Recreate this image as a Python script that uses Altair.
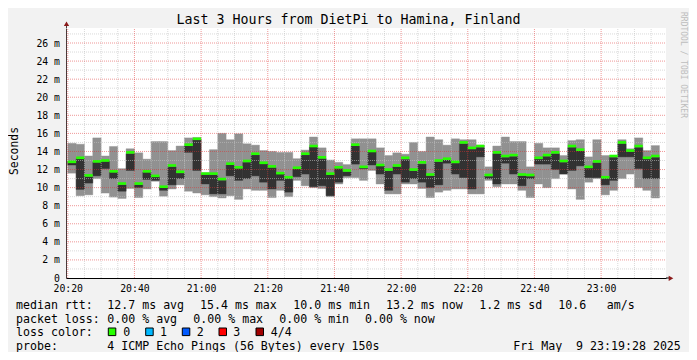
import altair as alt
import pandas as pd

MONO = "DejaVu Sans Mono"

# ---- values (milliseconds), one per 150 s step, first step 20:20 ----
ping_max = [14.9, 14.8, 13.5, 15.5, 13.5, 14.55, 12.1, 14.3, 13.85, 13.15,
            15.1, 15.1, 14.1, 14.6, 15.5, 15.55, 11.65, 14.2, 16.0, 15.3,
            15.95, 14.85, 14.7, 14.1, 14.0, 13.9, 13.9, 13.2, 14.15, 15.6,
            14.4, 13.05, 12.8, 12.55, 15.4, 15.4, 15.4, 14.4, 13.55, 13.85,
            13.7, 15.0, 14.0, 15.6, 15.3, 14.7, 15.4, 15.3, 15.3, 14.7,
            12.3, 14.6, 15.6, 15.1, 15.1, 12.3, 14.9, 14.4, 14.4, 13.55,
            15.2, 15.3, 13.4, 15.3, 13.55, 13.55, 15.3, 14.3, 15.5, 14.1,
            14.65]
smoke_hi = [12.9, 13.2, 11.2, 12.8, 12.9, 11.7, 10.3, 13.75, 10.3, 11.7,
            11.2, 10.0, 12.3, 11.6, 14.6, 15.3, 11.45, 11.4, 10.8, 12.5,
            12.1, 12.8, 13.6, 12.6, 12.2, 11.5, 11.0, 12.05, 13.6, 14.5,
            13.2, 11.4, 12.1, 11.75, 14.6, 12.2, 13.95, 12.4, 11.85, 12.3,
            13.1, 11.85, 12.6, 11.3, 12.85, 13.1, 12.7, 14.85, 14.25, 14.45,
            11.25, 13.75, 13.35, 13.45, 11.3, 11.25, 13.15, 13.45, 13.75, 12.8,
            14.45, 14.05, 12.15, 12.75, 11.0, 13.35, 14.85, 13.95, 14.45, 13.15,
            13.35]
median_rtt = [12.85, 13.3, 11.35, 12.9, 13.0, 11.8, 10.45, 13.9, 10.45, 11.8,
              11.3, 10.1, 12.45, 11.75, 14.75, 15.4, 11.55, 11.55, 10.95, 12.65,
              12.25, 12.95, 13.75, 12.75, 12.35, 11.6, 11.15, 12.2, 13.75, 14.6,
              13.35, 11.55, 12.25, 11.9, 14.75, 12.3, 14.05, 12.5, 12.0, 12.45,
              13.3, 12.0, 12.8, 11.45, 13.0, 13.2, 12.85, 15.0, 14.4, 14.6,
              11.4, 13.9, 13.5, 13.6, 11.45, 11.4, 13.3, 13.6, 13.9, 12.95,
              14.6, 14.2, 12.3, 12.9, 11.15, 13.5, 15.0, 14.1, 14.6, 13.3,
              13.5]
smoke_lo = [12.5, 9.8, 10.5, 11.3, 12.1, 11.0, 9.6, 11.9, 10.0, 10.9,
            10.8, 9.7, 10.3, 11.0, 13.9, 11.9, 10.4, 9.3, 9.3, 11.3,
            10.8, 11.0, 11.3, 10.6, 9.85, 10.8, 9.5, 11.2, 11.5, 10.1,
            10.2, 9.1, 10.6, 11.3, 12.6, 12.1, 12.5, 11.5, 9.7, 11.5,
            10.6, 11.0, 10.6, 10.0, 10.3, 12.7, 11.5, 11.1, 9.85, 13.4,
            11.0, 10.4, 12.7, 11.5, 10.2, 11.0, 12.6, 12.6, 12.0, 11.5,
            11.9, 12.4, 11.1, 11.1, 10.3, 10.8, 13.4, 13.4, 12.1, 11.0,
            11.0]
ping_min = [11.6, 9.1, 9.2, 11.0, 9.4, 8.95, 8.8, 9.9, 8.9, 9.85,
            10.7, 9.05, 9.85, 10.3, 9.6, 9.4, 9.2, 9.0, 8.85, 9.1,
            8.7, 9.85, 9.7, 9.7, 8.9, 9.7, 9.0, 10.8, 10.2, 10.0,
            9.9, 9.0, 10.4, 11.1, 11.1, 10.8, 11.9, 10.4, 9.3, 9.3,
            10.4, 10.4, 9.9, 8.9, 9.5, 9.7, 9.85, 9.85, 9.3, 9.3,
            10.8, 10.1, 10.4, 10.4, 9.7, 8.9, 10.4, 10.0, 11.0, 11.5,
            9.85, 8.7, 10.6, 11.0, 9.2, 9.7, 11.0, 11.5, 10.0, 9.7,
            8.85]

first_step_min = 20.0            # 20:20, in minutes after 20:00
step_min = 2.5                   # 150 s
x_domain = [19.4667, 199.4667]   # 20:19:28 .. 23:19:28
y_domain_max = 27.66

x_major = [20, 40, 60, 80, 100, 120, 140, 160, 180]
x_minor = [m for m in range(25, 200, 5) if m % 20 != 0]
y_labels = [0, 2, 4, 6, 8, 10, 12, 14, 16, 18, 20, 22, 24, 26]
y_major = [v for v in y_labels if v > 0]
y_minor = [1, 3, 5, 7, 9, 11, 13, 15, 17, 19, 21, 23, 25, 27]

loss_names = ["0", "1", "2", "3", "4/4"]
loss_colors = ["#26ff00", "#00b8ff", "#0059ff", "#ff0000", "#a00000"]

title_text = "Last 3 Hours from DietPi to Hamina, Finland"
legend_rows = [
    [("median rtt:", 16), ("12.7 ms avg", 107.3), ("15.4 ms max", 200),
     ("10.0 ms min", 293.3), ("13.2 ms now", 386), ("1.2 ms sd", 479.3),
     ("10.6", 558.3), ("am/s", 606.7)],
    [("packet loss:", 16), ("0.00 % avg", 107.3), ("0.00 % max", 193.3),
     ("0.00 % min", 279.3), ("0.00 % now", 365)],
    [("loss color:", 16)],
    [("probe:", 16), ("4 ICMP Echo Pings (56 Bytes) every 150s", 107.3),
     ("Fri May\u00a0 9 23:19:28 2025", 513.3)],
]
row_y = [305.5, 319.5, 333.3, 347.0]
loss_square_x = [108.3, 145.7, 182.3, 219.0, 256.0]
loss_label_x = [123.3, 160.0, 196.7, 233.3, 270.7]

# page position of plot origin
OX, OY = 66, 28

n = len(median_rtt)
steps = pd.DataFrame({
    "t0": [first_step_min + step_min * i for i in range(n)],
    "t1": [first_step_min + step_min * (i + 1) for i in range(n)],
    "pmax": ping_max, "shi": smoke_hi, "med": median_rtt,
    "slo": smoke_lo, "pmin": ping_min,
})

xs = alt.Scale(domain=x_domain, nice=False, zero=False)
ys = alt.Scale(domain=[0, y_domain_max], nice=False, zero=True)

x_axis = alt.Axis(values=x_major, title=None, grid=False, ticks=False,
                  labelExpr="format(20 + floor(datum.value / 60), '02d') + ':' + format(datum.value % 60, '02d')",
                  labelPadding=5.5, labelFlush=False, labelOverlap=False,
                  labelFont=MONO, labelFontSize=9.8, labelColor="black",
                  domainColor="black", domainWidth=1, zindex=1)
y_axis = alt.Axis(values=y_labels, title=None, grid=False, ticks=False,
                  labelExpr="datum.value == 0 ? '0' : datum.value + ' m'",
                  labelPadding=6.5, labelFlush=False, labelOverlap=False,
                  labelFont=MONO, labelFontSize=9.8, labelColor="black",
                  domainColor="#4a3a3a", domainWidth=1, zindex=1)

light = alt.Chart(steps).mark_rect(color="#919191", stroke="#919191", strokeWidth=0.4).encode(
    x=alt.X("t0:Q", scale=xs, axis=x_axis), x2="t1",
    y=alt.Y("pmin:Q", scale=ys, axis=y_axis), y2="pmax")
dark = alt.Chart(steps).mark_rect(color="#323232", stroke="#323232", strokeWidth=0.4).encode(
    x=alt.X("t0:Q", scale=xs, axis=x_axis), x2="t1",
    y=alt.Y("slo:Q", scale=ys, axis=y_axis), y2="shi")
median = alt.Chart(steps).mark_rule(color=loss_colors[0], strokeWidth=2.6).encode(
    x=alt.X("t0:Q", scale=xs, axis=x_axis), x2="t1",
    y=alt.Y("med:Q", scale=ys, axis=y_axis))


def hgrid(vals, color, opacity):
    return alt.Chart(pd.DataFrame({"v": vals})).mark_rule(
        color=color, opacity=opacity, strokeDash=[1, 1], strokeWidth=1).encode(
        y=alt.Y("v:Q", scale=ys, axis=y_axis),
        x=alt.datum(x_domain[0], scale=xs, axis=x_axis), x2=alt.datum(x_domain[1]))


def vgrid(vals, color, opacity):
    return alt.Chart(pd.DataFrame({"v": vals})).mark_rule(
        color=color, opacity=opacity, strokeDash=[1, 1], strokeWidth=1).encode(
        x=alt.X("v:Q", scale=xs, axis=x_axis),
        y=alt.datum(0, scale=ys, axis=y_axis), y2=alt.datum(y_domain_max))


def label(text, px, py, size=11.6, align="left", angle=0, color="black"):
    return alt.Chart(pd.DataFrame({"s": [text]})).mark_text(
        align=align, baseline="middle", font=MONO, fontSize=size, angle=angle,
        color=color).encode(text="s:N", x=alt.value(px - OX), y=alt.value(py - OY))


one = pd.DataFrame({"a": [0]})
layers = [light, dark,
          hgrid(y_minor, "#c0c0c0", 0.6), vgrid(x_minor, "#c0c0c0", 0.6),
          hgrid(y_major, "#e03030", 0.5), vgrid(x_major, "#e03030", 0.5),
          median]

# axis arrows
layers.append(alt.Chart(one).mark_rule(color="black", strokeWidth=1).encode(
    x=alt.value(600), x2=alt.value(604), y=alt.value(250)))
layers.append(alt.Chart(one).mark_point(shape="triangle-right", filled=True, size=28,
                                        color="#8b1a1a", opacity=1).encode(
    x=alt.value(605), y=alt.value(250.3)))
layers.append(alt.Chart(one).mark_rule(color="#4a3a3a", strokeWidth=1).encode(
    x=alt.value(0.5), y=alt.value(-2.5), y2=alt.value(0)))
layers.append(alt.Chart(one).mark_point(shape="triangle-up", filled=True, size=28,
                                        color="#8b1a1a", opacity=1).encode(
    x=alt.value(0.5), y=alt.value(-4.3)))

# titles
layers.append(label(title_text, 348.5, 19.8, size=13.3, align="center"))
layers.append(label("Seconds", 15, 151, size=11.4, align="center", angle=270))
layers.append(label("RRDTOOL / TOBI OETIKER", 682.8, 65, size=8.0, align="center",
                    angle=90, color="#bdbdbd"))

# legend text
for row, yy in zip(legend_rows, row_y):
    for text, xx in row:
        layers.append(label(text, xx, yy))
for name, col, sx, lx in zip(loss_names, loss_colors, loss_square_x, loss_label_x):
    layers.append(alt.Chart(one).mark_rect(fill=col, stroke="black", strokeWidth=1).encode(
        x=alt.value(sx - OX), x2=alt.value(sx - OX + 7.5),
        y=alt.value(row_y[2] - 1.5 - 3.8 - OY), y2=alt.value(row_y[2] - 1.5 + 3.8 - OY)))
    layers.append(label(name, lx, row_y[2]))

chart = alt.layer(*layers).properties(
    width=600, height=250,
    padding={"left": 58, "top": 20, "right": 23, "bottom": 74},
    autosize=alt.AutoSizeParams(type="none"),
    background="#f2f2f2",
).configure_view(fill="white", stroke=None)

chart.save("out.html", embed_options={"renderer": "svg", "actions": False})
